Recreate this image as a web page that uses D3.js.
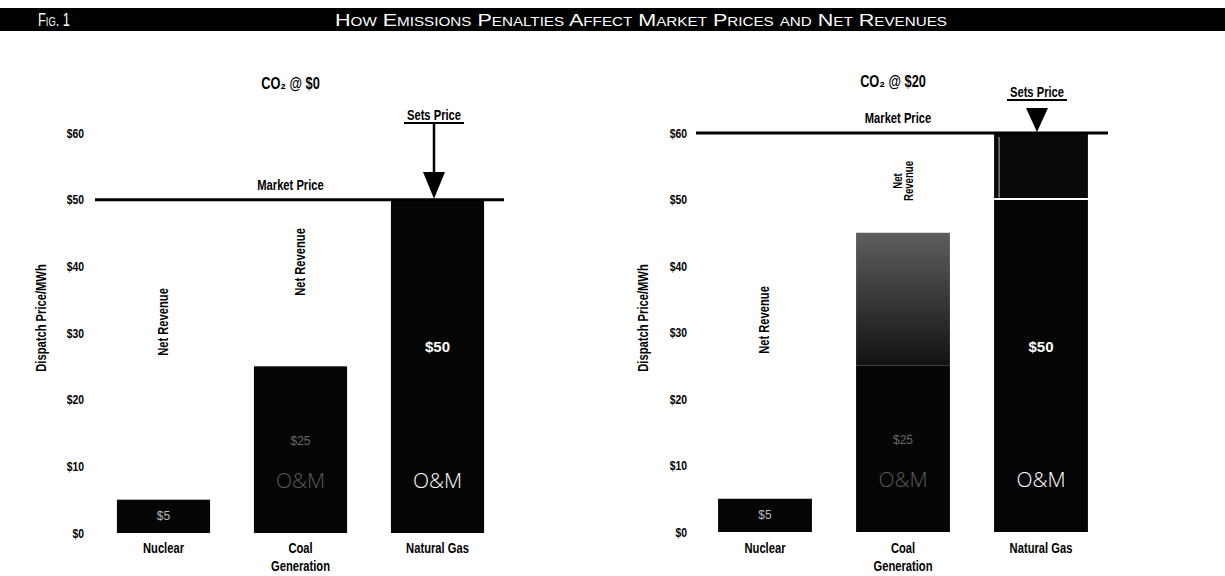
<!DOCTYPE html>
<html><head><meta charset="utf-8">
<script src="https://cdn.jsdelivr.net/npm/d3@7"></script>
<style>
body{margin:0;background:#fff;}
svg{display:block;}
text{font-family:"Liberation Sans",Arial,sans-serif;}
</style></head>
<body><svg id="chart" width="1225" height="576"></svg>
<script>
// ---- data ----
const figLabel = "Fig. 1";
const figTitle = "How Emissions Penalties Affect Market Prices and Net Revenues";
const categories = ["Nuclear", "Coal|Generation", "Natural Gas"];
const panelTitles = ["CO₂ @ $0", "CO₂ @ $20"];
const omCost = [5, 25, 50];            // O&M dispatch cost ($/MWh)
const co2Cost0 = [0, 0, 0];            // CO2 adder at $0
const co2Cost20 = [0, 20, 10];         // CO2 adder at $20
const marketPrice = [50, 60];
const yTicks = [0, 10, 20, 30, 40, 50, 60];
const costLabels = ["$5", "$25", "$50"];
const yAxisTitle = "Dispatch Price/MWh";

const SX = 0.8; // horizontal compression for the condensed bold face
const svg = d3.select("#chart");
const defs = svg.append("defs");
const grad = defs.append("linearGradient").attr("id","co2grad").attr("x1",0).attr("x2",0).attr("y1",0).attr("y2",1);
grad.append("stop").attr("offset","0%").attr("stop-color","#5e5e5e");
grad.append("stop").attr("offset","50%").attr("stop-color","#383838");
grad.append("stop").attr("offset","100%").attr("stop-color","#121212");

function ctext(g, x, y, str, o = {}) {
  const t = g.append("text")
    .attr("transform", `translate(${x},${y})` + (o.rot ? ` rotate(${o.rot})` : "") + ` scale(${o.sx || SX},1)`)
    .attr("text-anchor", o.anchor || "middle")
    .attr("font-size", o.fs || 13).attr("font-weight", o.fw || "bold")
    .attr("fill", o.fill || "#000").text(str);
  return t;
}

// ---- header band ----
svg.append("rect").attr("x",0).attr("y",8).attr("width",1225).attr("height",23).attr("fill","#000");
svg.append("text").attr("x",38).attr("y",26).attr("fill","#fff").attr("font-size",18)
  .style("font-variant","small-caps").attr("textLength",32).attr("lengthAdjust","spacingAndGlyphs").text(figLabel);
svg.append("text").attr("x",641).attr("y",26).attr("fill","#fff").attr("font-size",17)
  .attr("text-anchor","middle").style("font-variant","small-caps").attr("textLength",612)
  .attr("lengthAdjust","spacingAndGlyphs").text(figTitle);

const panels = [
  {title: panelTitles[0], co2: co2Cost0, price: marketPrice[0],
   xr: [95, 506], yr: [533, 133], axisX: 84, ytX: 46,
   titleY: 89, setsX: 434, setsY: 120, triTop: 172, stem: true, mpDx: 0,
   nrLabels: [{i:0, lines:["Net Revenue"], cy: 322, fs: 14}, {i:1, lines:["Net Revenue"], cy: 262, fs: 14}]},
  {title: panelTitles[1], co2: co2Cost20, price: marketPrice[1],
   xr: [696, 1110], yr: [532, 133], axisX: 687, ytX: 648,
   titleY: 87, setsX: 1037, setsY: 97, triTop: 108, stem: false, mpDx: 5,
   nrLabels: [{i:0, lines:["Net Revenue"], cy: 320, fs: 14}, {i:1, lines:["Net","Revenue"], cy: 181, fs: 12}]}
];

panels.forEach(p => {
  const g = svg.append("g");
  const x = d3.scaleBand().domain(categories).range(p.xr).paddingInner(0.32).paddingOuter(0.16);
  const y = d3.scaleLinear().domain([0, 60]).range(p.yr);
  const cx = c => x(c) + x.bandwidth()/2;

  // y axis (labels only)
  const ax = g.append("g").attr("transform",`translate(${p.axisX},0)`)
    .call(d3.axisLeft(y).tickValues(yTicks).tickSize(0).tickPadding(0).tickFormat(d => "$" + d));
  ax.select(".domain").remove();
  ax.selectAll("text").attr("font-size",13).attr("font-weight","bold").attr("fill","#000")
    .attr("transform",`scale(${SX},1)`)
    .style("font-family",'"Liberation Sans",Arial,sans-serif');

  // y axis title
  ctext(g, p.ytX, 318, yAxisTitle, {rot: -90, fs: 14});

  // panel title
  ctext(g, cx(categories[1]) - 10, p.titleY, p.title, {fs: 16});

  // O&M bars
  g.selectAll("rect.om").data(categories).join("rect").attr("class","om")
    .attr("x", d => x(d)).attr("width", x.bandwidth())
    .attr("y", (d,i) => y(omCost[i])).attr("height", (d,i) => y(0) - y(omCost[i]))
    .attr("fill","#050505");

  // CO2 adder bars
  g.selectAll("rect.co2").data(categories.filter((d,i)=>p.co2[i]>0)).join("rect").attr("class","co2")
    .attr("x", d => x(d)).attr("width", x.bandwidth())
    .attr("y", d => { const i = categories.indexOf(d); return y(omCost[i] + p.co2[i]); })
    .attr("height", d => { const i = categories.indexOf(d); return y(omCost[i]) - y(omCost[i] + p.co2[i]); })
    .attr("fill", d => categories.indexOf(d) === 1 ? "url(#co2grad)" : "#0a0a0a");
  // white separators on the gas adder
  categories.forEach((d,i) => {
    if (i === 2 && p.co2[i] > 0) {
      g.append("line").attr("x1", x(d)).attr("x2", x(d)+x.bandwidth())
        .attr("y1", y(omCost[i]) - 0.5).attr("y2", y(omCost[i]) - 0.5).attr("stroke","#fff").attr("stroke-width",2);
      g.append("line").attr("x1", x(d)+5).attr("x2", x(d)+5)
        .attr("y1", y(omCost[i] + p.co2[i]) + 4).attr("y2", y(omCost[i]) - 2).attr("stroke","#bbb").attr("stroke-width",1);
    }
  });

  // cost labels inside bars
  const lblStyle = [
    {fill:"#bbb", fs:12, fw:"normal"},
    {fill:"#6a6a6a", fs:12, fw:"normal"},
    {fill:"#fff", fs:15, fw:"bold"}];
  categories.forEach((d,i) => {
    const ly = i === 0 ? y(omCost[0]/2) + 4 : (i === 1 ? y(13.2) : y(27.1));
    g.append("text").attr("x", cx(d)).attr("y", ly).attr("text-anchor","middle")
      .attr("font-size", lblStyle[i].fs).attr("font-weight", lblStyle[i].fw).attr("fill", lblStyle[i].fill)
      .text(costLabels[i]);
    if (i > 0) {
      g.append("text").attr("x", cx(d)).attr("y", y(6.8)).attr("text-anchor","middle")
        .attr("font-size", 21).attr("fill", i === 1 ? "#5a5a5a" : "#fff")
        .style("font-family",'"Open Sans","DejaVu Sans",sans-serif').style("font-weight","300")
        .text("O&M");
    }
  });

  // category labels
  categories.forEach(d => {
    d.split("|").forEach((ln, k) => {
      ctext(g, cx(d), 553 + k*18, ln, {fs: 14});
    });
  });

  // net revenue labels (rotated)
  p.nrLabels.forEach(nr => {
    const d = categories[nr.i];
    const n = nr.lines.length;
    nr.lines.forEach((ln, k) => {
      const xx = cx(d) + (k - (n-1)/2) * 11 + 4;
      ctext(g, xx, nr.cy, ln, {rot: -90, fs: nr.fs});
    });
  });

  // market price line
  g.append("line").attr("x1", p.xr[0]).attr("x2", p.xr[1] - 2).attr("y1", y(p.price)).attr("y2", y(p.price))
    .attr("stroke","#000").attr("stroke-width",3);
  const cMid = (p.xr[0] + p.xr[1]) / 2;
  ctext(g, cMid - 10 + p.mpDx, y(p.price) - 10, "Market Price", {fs: 14});

  // sets price marker
  const ax2 = p.setsX;
  ctext(g, ax2, p.setsY, "Sets Price", {fs: 14});
  g.append("line").attr("x1", ax2-30).attr("x2", ax2+30).attr("y1", p.setsY+3).attr("y2", p.setsY+3)
    .attr("stroke","#000").attr("stroke-width",1.8);
  if (p.stem) {
    g.append("line").attr("x1", ax2).attr("x2", ax2).attr("y1", p.setsY+3).attr("y2", p.triTop)
      .attr("stroke","#000").attr("stroke-width",2.5);
  }
  const tip = y(p.price) - 1;
  g.append("path").attr("d", `M${ax2-11},${p.triTop}L${ax2+11},${p.triTop}L${ax2},${tip}Z`).attr("fill","#000");
});
</script></body></html>
